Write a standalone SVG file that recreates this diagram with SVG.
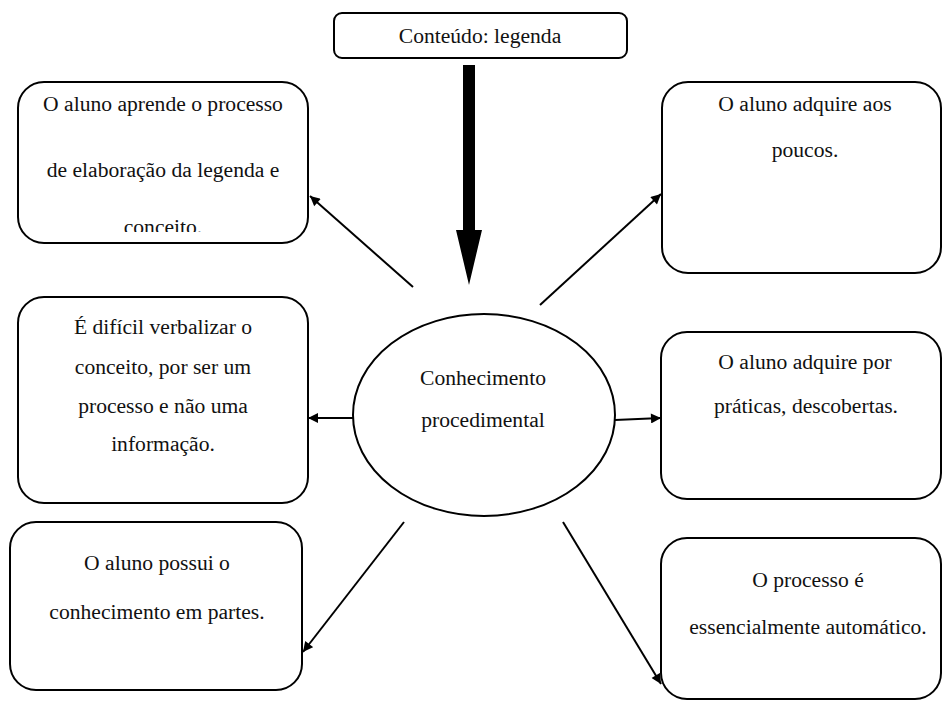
<svg xmlns="http://www.w3.org/2000/svg" width="943" height="702" viewBox="0 0 943 702">
<defs>
<style>
.box{fill:#fff;stroke:#000;stroke-width:2}
.t{font-family:'Liberation Serif','Times New Roman',serif;font-size:21.6px;fill:#111;text-anchor:middle}
.c{stroke:#000;stroke-width:2;fill:none;marker-end:url(#ah)}
</style>
<marker id="ah" viewBox="0 0 10 10" refX="10" refY="5" markerWidth="11" markerHeight="10" markerUnits="userSpaceOnUse" orient="auto">
<path d="M0,0 L10,5 L0,10 z" fill="#000"/>
</marker>
<clipPath id="clipTL"><rect x="17" y="82" width="291" height="150"/></clipPath>
</defs>
<rect width="943" height="702" fill="#fff"/>

<g id="top">
<rect class="box" x="334" y="13" width="293" height="45" rx="8"/>
<text class="t" x="480" y="43">Conteúdo: legenda</text>
</g>

<g id="center">
<ellipse class="box" cx="484" cy="415" rx="131" ry="101"/>
<text class="t" x="483" y="385">Conhecimento</text>
<text class="t" x="483" y="427">procedimental</text>
</g>

<g id="tl">
<rect class="box" x="18" y="82" width="290" height="161" rx="26"/>
<text class="t" x="163" y="111">O aluno aprende o processo</text>
<text class="t" x="163" y="177">de elaboração da legenda e</text>
<text class="t" x="163" y="234" clip-path="url(#clipTL)">conceito.</text>
</g>

<g id="tr">
<rect class="box" x="662" y="82" width="279" height="191" rx="26"/>
<text class="t" x="805" y="111">O aluno adquire aos</text>
<text class="t" x="805" y="157">poucos.</text>
</g>

<g id="ml">
<rect class="box" x="18" y="297" width="290" height="206" rx="26"/>
<text class="t" x="163" y="334">É difícil verbalizar o</text>
<text class="t" x="163" y="374">conceito, por ser um</text>
<text class="t" x="163" y="413">processo e não uma</text>
<text class="t" x="163" y="451">informação.</text>
</g>

<g id="mr">
<rect class="box" x="661" y="332" width="280" height="167" rx="26"/>
<text class="t" x="805" y="369">O aluno adquire por</text>
<text class="t" x="806" y="413">práticas, descobertas.</text>
</g>

<g id="bl">
<rect class="box" x="10" y="522" width="292" height="168" rx="26"/>
<text class="t" x="157" y="570">O aluno possui o</text>
<text class="t" x="157" y="619">conhecimento em partes.</text>
</g>

<g id="br">
<rect class="box" x="661" y="538" width="280" height="161" rx="26"/>
<text class="t" x="808" y="587">O processo é</text>
<text class="t" x="808" y="634">essencialmente automático.</text>
</g>

<g id="connectors">
<polygon points="463,65 475,65 475,230 482,230 469,285 456,230 463,230" fill="#000"/>
<line class="c" x1="413" y1="287" x2="310" y2="196"/>
<line class="c" x1="540" y1="305" x2="661" y2="194"/>
<line class="c" x1="353" y1="418" x2="308" y2="418"/>
<line class="c" x1="615" y1="420" x2="661" y2="418"/>
<line class="c" x1="404" y1="522" x2="303" y2="652"/>
<line class="c" x1="563" y1="522" x2="661" y2="684"/>
</g>
</svg>
